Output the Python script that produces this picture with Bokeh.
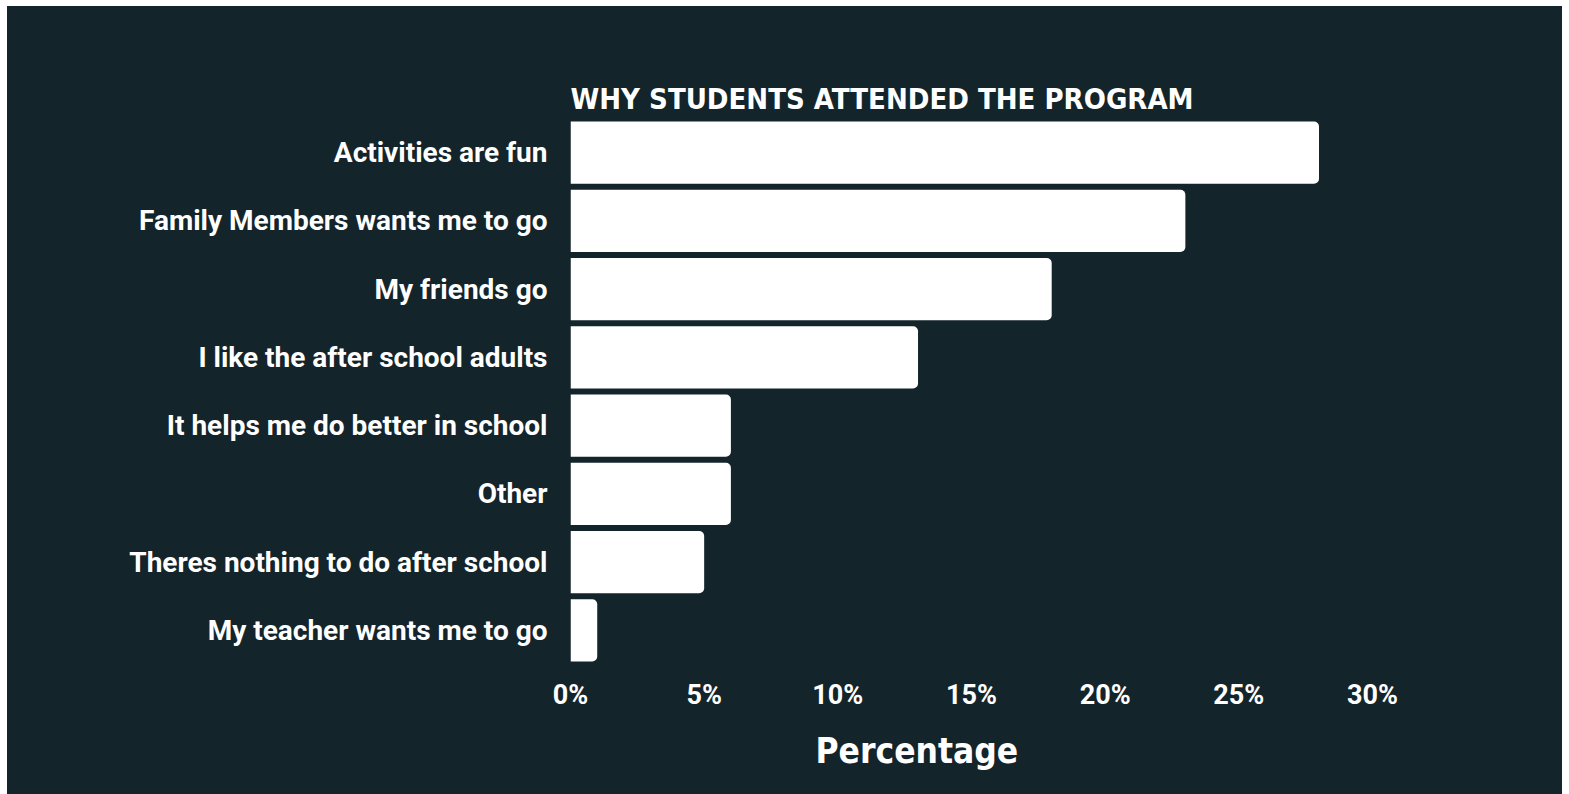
from bokeh.plotting import figure
from bokeh.embed import file_html
from bokeh.resources import INLINE
from bokeh.models import ColumnDataSource, FixedTicker, PrintfTickFormatter, Range1d, Spacer, Title
from bokeh.layouts import column, row

reasons = [
    "Activities are fun",
    "Family Members wants me to go",
    "My friends go",
    "I like the after school adults",
    "It helps me do better in school",
    "Other",
    "Theres nothing to do after school",
    "My teacher wants me to go",
]
percent = [28, 23, 18, 13, 6, 6, 5, 1]
x_ticks = [0, 5, 10, 15, 20, 25, 30]

BG = "#14242b"
COND = "'DejaVu Sans Condensed', sans-serif"

src = ColumnDataSource(dict(reason=reasons, pct=percent))

p = figure(
    width=1555, height=788,
    y_range=list(reversed(reasons)),
    x_range=Range1d(0, 30),
    output_backend="svg", toolbar_location=None,
    min_border_left=563, min_border_right=190,
    min_border_top=112, min_border_bottom=130,
    background_fill_color=BG, border_fill_color=BG,
    outline_line_color=None,
    title="WHY STUDENTS ATTENDED THE PROGRAM",
)
p.styles = {"background-color": BG}
p.hbar(y="reason", right="pct", left=0, height=0.91, source=src,
       fill_color="white", line_color=None, border_radius=(0, 5, 5, 0))

p.title.text_font = COND
p.title.text_font_size = "29px"
p.title.text_font_style = "bold"
p.title.text_color = "white"
p.title.align = "left"
p.title.standoff = 6

p.xgrid.grid_line_color = None
p.ygrid.grid_line_color = None

ya = p.yaxis[0]
ya.axis_line_color = None
ya.major_tick_line_color = None
ya.minor_tick_line_color = None
ya.major_label_text_font = "Roboto"
ya.major_label_text_font_style = "bold"
ya.major_label_text_font_size = "28px"
ya.major_label_text_color = "white"
ya.major_label_standoff = 17

xa = p.xaxis[0]
xa.ticker = FixedTicker(ticks=x_ticks)
xa.formatter = PrintfTickFormatter(format="%d%%")
xa.axis_line_color = None
xa.major_tick_line_color = None
xa.minor_tick_line_color = None
xa.major_label_text_font = "Roboto"
xa.major_label_text_font_style = "bold"
xa.major_label_text_font_size = "27px"
xa.major_label_text_color = "white"
xa.major_label_standoff = 8

xlabel = Title(text="Percentage", align="left", offset=245, standoff=30,
               text_font=COND, text_font_style="bold", text_font_size="35px",
               text_color="white")
p.add_layout(xlabel, "below")

layout = column(Spacer(height=6), row(Spacer(width=7), p, spacing=0), spacing=0)
layout.styles = {"background-color": "white"}

open("out.html", "w").write(file_html(layout, INLINE))
